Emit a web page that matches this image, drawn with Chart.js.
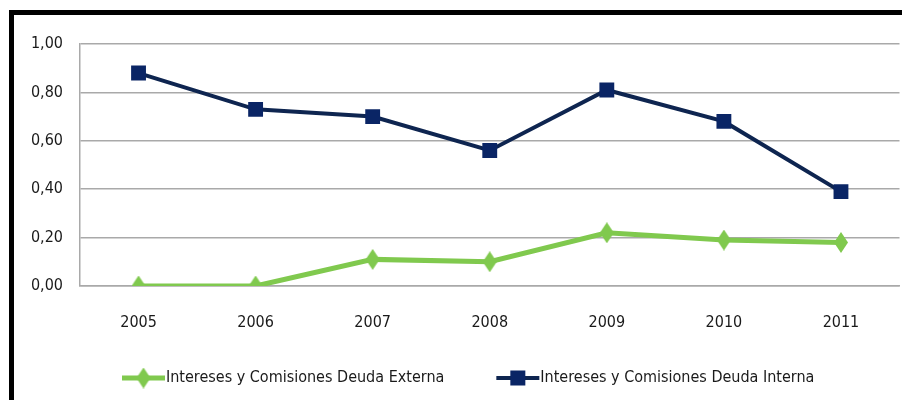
<!DOCTYPE html>
<html>
<head>
<meta charset="utf-8">
<script src="https://cdn.jsdelivr.net/npm/chart.js@4/dist/chart.umd.min.js"></script>
<style>
  html, body { margin: 0; padding: 0; background: #fff; overflow: hidden; }
  #wrap { position: relative; width: 902px; height: 400px; overflow: hidden; }
</style>
</head>
<body>
<div id="wrap"><canvas id="chart" width="910" height="400"></canvas></div>
<script>
// ── Datos ────────────────────────────────────────────────────────────────
const ANIOS          = ['2005', '2006', '2007', '2008', '2009', '2010', '2011'];
const DEUDA_EXTERNA  = [0.00, 0.00, 0.11, 0.10, 0.22, 0.19, 0.18];
const DEUDA_INTERNA  = [0.88, 0.73, 0.70, 0.56, 0.81, 0.68, 0.39];
const Y_TICKS        = [0.00, 0.20, 0.40, 0.60, 0.80, 1.00];
const SERIES_LABELS  = ['Intereses y Comisiones Deuda Externa', 'Intereses y Comisiones Deuda Interna'];

const VERDE = '#80c94e';
const AZUL  = '#0e2550';
const AZUL_MARK = '#0a2565';
const GRID  = '#a9a9a9';
const FONT  = "'DejaVu Sans Condensed', 'DejaVu Sans', sans-serif";

// marcador rombo (más alto que ancho, como Excel)
function makeDiamond(w, h, color) {
  const c = document.createElement('canvas');
  c.width = w; c.height = h;
  const g = c.getContext('2d');
  g.fillStyle = color;
  g.beginPath();
  g.moveTo(w / 2, 0);
  g.lineTo(w, h / 2);
  g.lineTo(w / 2, h);
  g.lineTo(0, h / 2);
  g.closePath();
  g.fill();
  return c;
}
const DIAMANTE = makeDiamond(14, 21, VERDE);

// ── Marco y leyenda ──────────────────────────────────────────────────────
const frameAndLegend = {
  id: 'frameAndLegend',
  afterDraw(chart) {
    const ctx = chart.ctx;
    ctx.save();
    // marco negro (arriba e izquierda)
    ctx.strokeStyle = '#000';
    ctx.lineWidth = 5;
    ctx.beginPath();
    ctx.moveTo(11.5, 400);
    ctx.lineTo(11.5, 12.5);
    ctx.lineTo(910, 12.5);
    ctx.stroke();

    // leyenda
    const y = 378;
    let x = 122;
    ctx.font = `16px ${FONT}`;
    ctx.textBaseline = 'middle';
    ctx.fillStyle = '#1a1a1a';
    SERIES_LABELS.forEach((label, i) => {
      const color = i === 0 ? VERDE : AZUL;
      ctx.strokeStyle = color;
      ctx.lineWidth = i === 0 ? 5 : 4;
      ctx.beginPath();
      ctx.moveTo(x, y);
      ctx.lineTo(x + 43, y);
      ctx.stroke();
      if (i === 0) {
        ctx.drawImage(DIAMANTE, x + 21.5 - 7, y - 10.5);
      } else {
        ctx.fillStyle = AZUL_MARK;
        ctx.fillRect(x + 21.5 - 7.5, y - 7.5, 15, 15);
        ctx.fillStyle = '#1a1a1a';
      }
      x += 44;
      ctx.fillText(label, x, y);
      x += ctx.measureText(label).width + 52;
    });
    ctx.restore();
  }
};

new Chart(document.getElementById('chart'), {
  type: 'line',
  data: {
    labels: ANIOS,
    datasets: [
      {
        label: SERIES_LABELS[0],
        data: DEUDA_EXTERNA,
        borderColor: VERDE,
        backgroundColor: VERDE,
        borderWidth: 5,
        pointStyle: DIAMANTE,
        tension: 0,
      },
      {
        label: SERIES_LABELS[1],
        data: DEUDA_INTERNA,
        borderColor: AZUL,
        backgroundColor: AZUL_MARK,
        borderWidth: 4,
        pointStyle: 'rect',
        pointRadius: 10.5,
        pointBorderColor: AZUL_MARK,
        pointBorderWidth: 0,
        tension: 0,
      },
    ]
  },
  options: {
    responsive: false,
    animation: false,
    devicePixelRatio: 1,
    layout: { padding: { left: 14, right: 0, top: 44, bottom: 0 } },
    plugins: {
      legend: { display: false },
      tooltip: { enabled: false },
    },
    scales: {
      x: {
        offset: true,
        grid: { display: false, drawTicks: false },
        border: { display: true, color: GRID, width: 1.5 },
        ticks: {
          color: '#1a1a1a',
          font: { family: FONT, size: 16 },
          padding: 27,
          maxRotation: 0,
        },
        afterFit: s => { s.height = 114; },
      },
      y: {
        min: 0, max: 1,
        afterBuildTicks: s => { s.ticks = Y_TICKS.map(v => ({ value: v })); },
        grid: { color: GRID, lineWidth: 1.5, drawTicks: false },
        border: { display: true, color: GRID, width: 1.5 },
        ticks: {
          color: '#1a1a1a',
          font: { family: FONT, size: 16 },
          padding: 17,
          callback: v => v.toFixed(2).replace('.', ','),
        },
        afterFit: s => { s.width = 66; },
      }
    }
  },
  plugins: [frameAndLegend]
});
</script>
</body>
</html>
